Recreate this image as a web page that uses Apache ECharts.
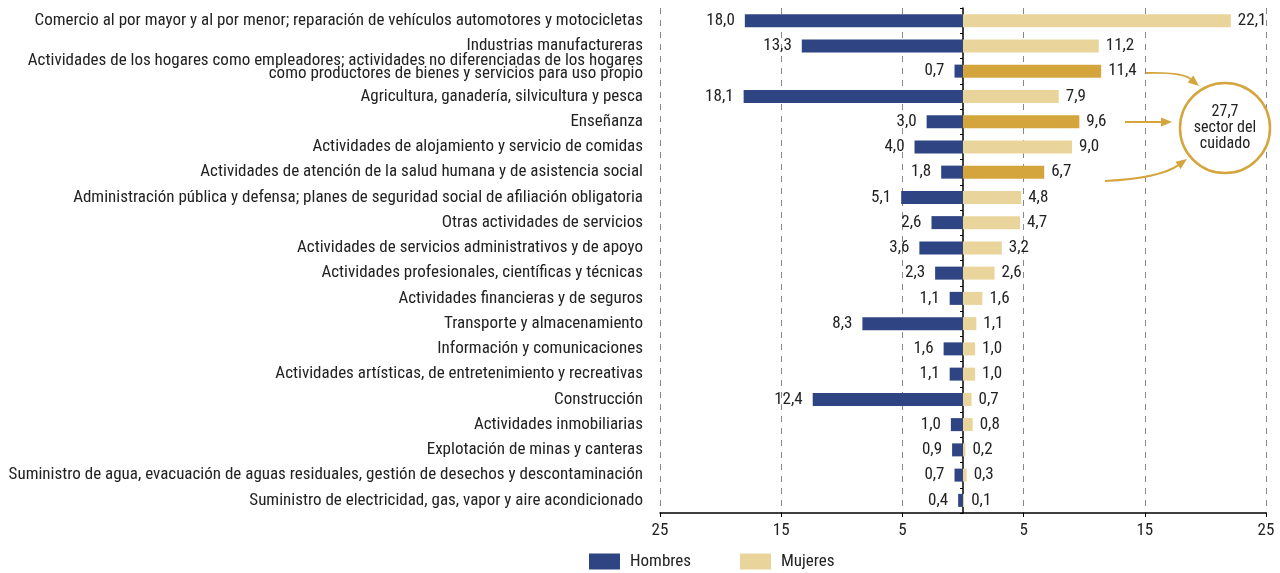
<!DOCTYPE html>
<html>
<head>
<meta charset="utf-8">
<script src="https://cdn.jsdelivr.net/npm/echarts@6/dist/echarts.min.js"></script>
<style>
    html, body { margin: 0; padding: 0; background: #fff; }
    #main { width: 1280px; height: 573px; }
</style>
</head>
<body>
<div id="main"></div>
<script>
    var categorias = [
        'Comercio al por mayor y al por menor; reparación de vehículos automotores y motocicletas',
        'Industrias manufactureras',
        'Actividades de los hogares como empleadores; actividades no diferenciadas de los hogares\ncomo productores de bienes y servicios para uso propio',
        'Agricultura, ganadería, silvicultura y pesca',
        'Enseñanza',
        'Actividades de alojamiento y servicio de comidas',
        'Actividades de atención de la salud humana y de asistencia social',
        'Administración pública y defensa; planes de seguridad social de afiliación obligatoria',
        'Otras actividades de servicios',
        'Actividades de servicios administrativos y de apoyo',
        'Actividades profesionales, científicas y técnicas',
        'Actividades financieras y de seguros',
        'Transporte y almacenamiento',
        'Información y comunicaciones',
        'Actividades artísticas, de entretenimiento y recreativas',
        'Construcción',
        'Actividades inmobiliarias',
        'Explotación de minas y canteras',
        'Suministro de agua, evacuación de aguas residuales, gestión de desechos y descontaminación',
        'Suministro de electricidad, gas, vapor y aire acondicionado'
    ];
    var hombres = [18.0, 13.3, 0.7, 18.1, 3.0, 4.0, 1.8, 5.1, 2.6, 3.6, 2.3, 1.1, 8.3, 1.6, 1.1, 12.4, 1.0, 0.9, 0.7, 0.4];
    var mujeres = [22.1, 11.2, 11.4, 7.9, 9.6, 9.0, 6.7, 4.8, 4.7, 3.2, 2.6, 1.6, 1.1, 1.0, 1.0, 0.7, 0.8, 0.2, 0.3, 0.1];
    // filas del sector del cuidado
    var cuidado = [2, 4, 6];
    var totalCuidado = '27,7';

    var azul = '#2F4483';
    var beige = '#E9D59B';
    var oro = '#D4A53C';
    var fuente = '"Roboto Condensed", "DejaVu Sans Condensed", sans-serif';

    function fmt(v) {
        return Math.abs(v).toFixed(1).replace('.', ',');
    }

    var chart = echarts.init(document.getElementById('main'));
    var option = {
        animation: false,
        textStyle: { fontFamily: fuente },
        grid: { left: 660, right: 14, top: 8, bottom: 60, containLabel: false, outerBoundsMode: 'none' },
        legend: {
            data: ['Hombres', 'Mujeres'],
            left: 584,
            top: 548,
            icon: 'rect',
            itemWidth: 31,
            itemHeight: 16,
            itemGap: 49,
            textStyle: { fontFamily: fuente, fontSize: 17, color: '#222', padding: [0, 0, 0, 5] }
        },
        xAxis: {
            type: 'value',
            min: -25,
            max: 25,
            interval: 10,
            axisLine: { show: true, onZero: false, lineStyle: { color: '#000', width: 1.5 } },
            axisTick: { show: true, length: 4, lineStyle: { color: '#000' } },
            axisLabel: {
                color: '#222', fontSize: 17, fontFamily: fuente, margin: 9,
                formatter: function (v) { return Math.abs(v); }
            },
            splitLine: { show: true, lineStyle: { color: '#888', type: [6, 6], width: 1 } }
        },
        yAxis: [
            {
                type: 'category',
                data: categorias,
                inverse: true,
                position: 'left',
                axisLine: { show: false, onZero: false },
                axisTick: { show: false },
                axisLabel: {
                    color: '#222', fontSize: 17, fontFamily: fuente, margin: 17,
                    lineHeight: 13, align: 'right',
                    // la etiqueta de dos líneas sube un poco
                    formatter: function (v) {
                        return v.indexOf('\n') >= 0 ? v + '\n{s| }' : v;
                    },
                    rich: { s: { lineHeight: 8, fontSize: 4 } }
                }
            },
            {
                // eje central en el cero
                type: 'category',
                data: categorias,
                inverse: true,
                position: 'left',
                offset: -303,
                axisLine: { show: true, onZero: false, lineStyle: { color: '#000', width: 1.5 } },
                axisTick: { show: true, length: 3, lineStyle: { color: '#000' } },
                axisLabel: { show: false }
            }
        ],
        series: [
            {
                name: 'Hombres',
                type: 'bar',
                barWidth: 13,
                barGap: '-100%',
                itemStyle: { color: azul },
                label: {
                    show: true, position: 'left', distance: 10,
                    color: '#222', fontSize: 17, fontFamily: fuente,
                    formatter: function (p) { return fmt(p.value); }
                },
                data: hombres.map(function (v) { return -v; })
            },
            {
                name: 'Mujeres',
                type: 'bar',
                barWidth: 13,
                itemStyle: { color: beige },
                label: {
                    show: true, position: 'right', distance: 7,
                    color: '#222', fontSize: 17, fontFamily: fuente,
                    formatter: function (p) { return fmt(p.value); }
                },
                data: mujeres.map(function (v, i) {
                    return cuidado.indexOf(i) >= 0 ? { value: v, itemStyle: { color: oro } } : v;
                })
            }
        ]
    };
    chart.setOption(option);

    // anotación del sector del cuidado
    function flecha(x1, y1, cx, cy, x2, y2) {
        var ang = Math.atan2(y2 - cy, x2 - cx);
        var L = 11, W = 4.5;
        var bx = x2 - L * Math.cos(ang), by = y2 - L * Math.sin(ang);
        var px = -Math.sin(ang) * W, py = Math.cos(ang) * W;
        return [
            {
                type: 'bezierCurve',
                shape: { x1: x1, y1: y1, cpx1: cx, cpy1: cy, x2: bx, y2: by },
                style: { stroke: oro, lineWidth: 2, fill: null }
            },
            {
                type: 'polygon',
                shape: { points: [[x2, y2], [bx + px, by + py], [bx - px, by - py]] },
                style: { fill: oro }
            }
        ];
    }
    var g = [];
    g = g.concat(flecha(1146, 73, 1182, 72, 1199, 86));
    g = g.concat(flecha(1125, 122, 1150, 122, 1172, 122));
    g = g.concat(flecha(1105, 181, 1160, 178, 1187, 159));
    g.push({
        type: 'circle',
        shape: { cx: 1225, cy: 128, r: 45 },
        style: { stroke: oro, lineWidth: 2.5, fill: '#fff' }
    });
    g.push({
        type: 'text',
        x: 1225, y: 128,
        style: {
            text: totalCuidado + '\nsector del\ncuidado',
            x: 0, y: 0,
            align: 'center', verticalAlign: 'middle',
            font: '16px ' + fuente,
            lineHeight: 16,
            fill: '#222'
        }
    });
    chart.setOption({ graphic: g });
</script>
</body>
</html>
